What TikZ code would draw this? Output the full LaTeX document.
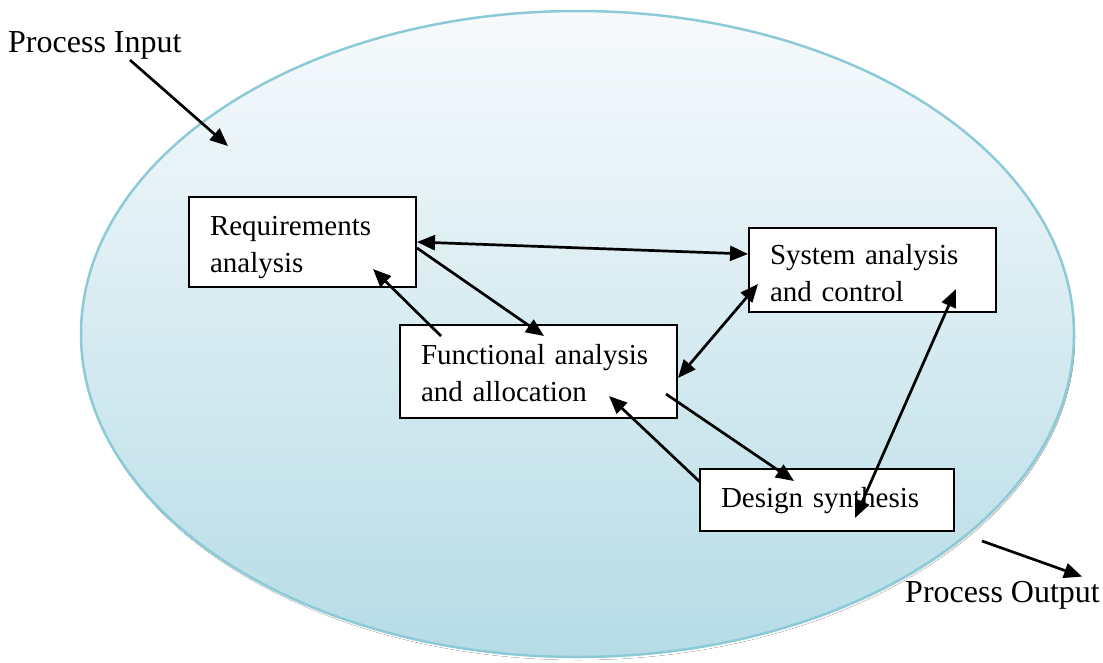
\documentclass[tikz,border=0pt]{standalone}
\usepackage{fontspec}
\setmainfont{Liberation Serif}
\usetikzlibrary{arrows.meta,calc}
\definecolor{rim}{HTML}{8CCAD8}
\definecolor{shade}{HTML}{98B4BC}
\definecolor{topfill}{HTML}{F7FAFC}
\definecolor{botfill}{HTML}{B6DCE6}
\tikzset{
  boxnode/.style={draw=black, line width=2pt, fill=white, inner sep=0pt},
  boxtext/.style={inner sep=0pt, align=left, font=\fontsize{29}{37}\selectfont},
  conn/.style={line width=2.7pt, -{Triangle[length=18pt,width=15pt]}},
  biconn/.style={line width=2.7pt, {Triangle[length=18pt,width=15pt]}-{Triangle[length=18pt,width=15pt]}},
  lbl/.style={inner sep=0pt, font=\fontsize{32}{38}\selectfont}
}
\begin{document}
\begin{tikzpicture}[x=1pt,y=-1pt]
\useasboundingbox (0,0) rectangle (1103,662);
% ellipse with shadow
\fill[shade] (578.5,337) ellipse [x radius=496.5pt, y radius=323pt];
\shade[top color=topfill, bottom color=botfill, draw=rim, line width=2.5pt]
  (577.5,334) ellipse [x radius=496.5pt, y radius=323pt];
% boxes
\node[boxnode, minimum width=227pt, minimum height=90pt] (req) at (302.5,242) {};
\node[boxnode, minimum width=247pt, minimum height=84pt] (sys) at (872.5,270) {};
\node[boxnode, minimum width=277pt, minimum height=93pt] (func) at (538.5,371.5) {};
\node[boxnode, minimum width=254pt, minimum height=62pt] (des) at (827,500) {};
\node[boxtext, text width=185pt] (reqT) at ($(req.center)+(0,6)$) {Requirements\\analysis};
\node[boxtext, text width=205pt] (sysT) at ($(sys.center)+(0,3)$) {System analysis\\and control};
\node[boxtext, text width=235pt] (funcT) at ($(func.center)+(0,2)$) {Functional analysis\\and allocation};
\node[boxtext, text width=212pt] (desT) at ($(des.center)+(0,1)$) {Design synthesis};
% labels
\node[lbl, anchor=base west] (pin) at (8,52) {Process Input};
\node[lbl, anchor=base west] (pout) at (905,602) {Process Output};
\coordinate (inTip) at (228,146);
\coordinate (outStart) at (982,541);
% connectors
\draw[biconn] (req.east) -- ($(sys.west)+(0,-16)$);
\draw[conn] ($(req.east)+(0,6)$) -- ($(func.north west)+(145,12)$);
\draw[conn] ($(func.north west)+(42,12)$) -- ($(req.south east)+(-44,-19)$);
\draw[biconn] ($(func.east)+(0,6.5)$) -- ($(sys.south west)+(10,-29)$);
\draw[conn] ($(func.south east)+(-12,-25)$) -- ($(des.north west)+(95,13)$);
\draw[conn] ($(des.north west)+(1,14)$) -- ($(func.south east)+(-69,-23)$);
\draw[biconn] ($(des.south west)+(156,-14)$) -- ($(sys.south east)+(-41,-24)$);
\draw[conn] ($(pin.base west)+(122,8)$) -- (inTip);
\draw[conn] (outStart) -- ($(pout.north east)+(-18,-4)$);
\end{tikzpicture}
\end{document}
